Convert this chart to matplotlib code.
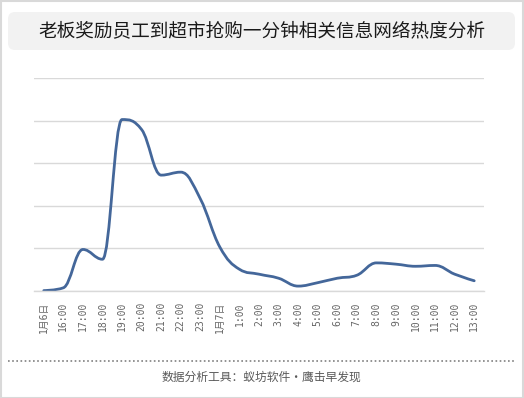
import matplotlib
matplotlib.use("Agg")
import matplotlib.pyplot as plt
from matplotlib.path import Path
from matplotlib.patches import PathPatch, FancyBboxPatch, Rectangle
from matplotlib.lines import Line2D
import numpy as np

plt.rcParams['font.family'] = ['Noto Sans CJK SC', 'DejaVu Sans']

title = "老板奖励员工到超市抢购一分钟相关信息网络热度分析"
footer = "数据分析工具：蚁坊软件·鹰击早发现"
labels = ['1月6日', '16:00', '17:00', '18:00', '19:00', '20:00', '21:00', '22:00',
          '23:00', '1月7日', '1:00', '2:00', '3:00', '4:00', '5:00', '6:00', '7:00',
          '8:00', '9:00', '10:00', '11:00', '12:00', '13:00']
values = [0.2, 1.5, 19.5, 14.9, 80.5, 75.8, 54.4, 55.8, 43.3, 20.6, 10.2, 7.9,
          6.0, 2.3, 3.9, 6.0, 7.4, 13.2, 12.6, 11.6, 12.0, 7.9, 4.8]

W, H = 524, 398
fig = plt.figure(figsize=(W / 100, H / 100), dpi=100)
fig.patch.set_facecolor('white')

# outer border
fig.add_artist(Rectangle((0.5, 0.5), W - 1.5, H - 1.5, transform=None, fill=False,
                         edgecolor='#d9d9d9', linewidth=1.5))
# title box
fig.add_artist(FancyBboxPatch((8, H - 50), 507, 38, transform=None,
                              boxstyle="round,pad=0,rounding_size=7",
                              facecolor='#f2f2f2', edgecolor='none'))
fig.text(261.5 / W, 1 - 31 / H, title, ha='center', va='center', fontsize=13.4,
         color='#1a1a1a')
# dotted separator
fig.add_artist(Line2D([8 / W, 515 / W], [1 - 360.5 / H] * 2, transform=fig.transFigure,
                      color='#808080', linewidth=1.2, linestyle=(0, (1, 1.5))))
fig.text(261.5 / W, 1 - 377.5 / H, footer, ha='center', va='center', fontsize=8.5,
         color='#595959')

ax = fig.add_axes([34 / W, 1 - 291 / H, 450 / W, 213 / H])
ax.set_xlim(-0.5, len(labels) - 0.5)
ax.set_ylim(0, 100)
ax.set_yticks([0, 20, 40, 60, 80, 100])
ax.set_yticklabels([])
ax.yaxis.grid(True, color='#d9d9d9', linewidth=1)
ax.set_axisbelow(True)
for s in ['top', 'right', 'left']:
    ax.spines[s].set_visible(False)
ax.spines['bottom'].set_color('#d9d9d9')
ax.spines['bottom'].set_linewidth(1)
ax.tick_params(axis='y', length=0)
ax.tick_params(axis='x', length=0, pad=8)
ax.set_xticks(range(len(labels)))
ax.set_xticklabels(labels, rotation=90, fontsize=7, color='#666666', va='top',
                   family=['DejaVu Sans Mono', 'Noto Sans CJK SC'])

# Highcharts-style spline (no false extremes)
x = np.arange(len(values), dtype=float)
y = np.array(values, dtype=float)
n = len(x)
sm = 1.5
den = sm + 1
lc = [None] * n
rc = [None] * n
for i in range(1, n - 1):
    lx = (sm * x[i] + x[i - 1]) / den
    ly = (sm * y[i] + y[i - 1]) / den
    rx = (sm * x[i] + x[i + 1]) / den
    ry = (sm * y[i] + y[i + 1]) / den
    corr = (ry - ly) * (rx - x[i]) / (rx - lx) + y[i] - ry
    ly += corr
    ry += corr
    if ly > y[i - 1] and ly > y[i]:
        ly = max(y[i - 1], y[i]); ry = 2 * y[i] - ly
    elif ly < y[i - 1] and ly < y[i]:
        ly = min(y[i - 1], y[i]); ry = 2 * y[i] - ly
    if ry > y[i + 1] and ry > y[i]:
        ry = max(y[i + 1], y[i]); ly = 2 * y[i] - ry
    elif ry < y[i + 1] and ry < y[i]:
        ry = min(y[i + 1], y[i]); ly = 2 * y[i] - ry
    lc[i] = (lx, ly)
    rc[i] = (rx, ry)
lc[0] = rc[0] = (x[0], y[0])
lc[-1] = rc[-1] = (x[-1], y[-1])

verts = [(x[0], y[0])]
codes = [Path.MOVETO]
for i in range(1, n):
    verts += [rc[i - 1], lc[i], (x[i], y[i])]
    codes += [Path.CURVE4] * 3
ax.add_patch(PathPatch(Path(verts, codes), facecolor='none', edgecolor='#44679a',
                       linewidth=2.0, capstyle='round', joinstyle='round', clip_on=False))

fig.savefig('out.png', dpi=100)
